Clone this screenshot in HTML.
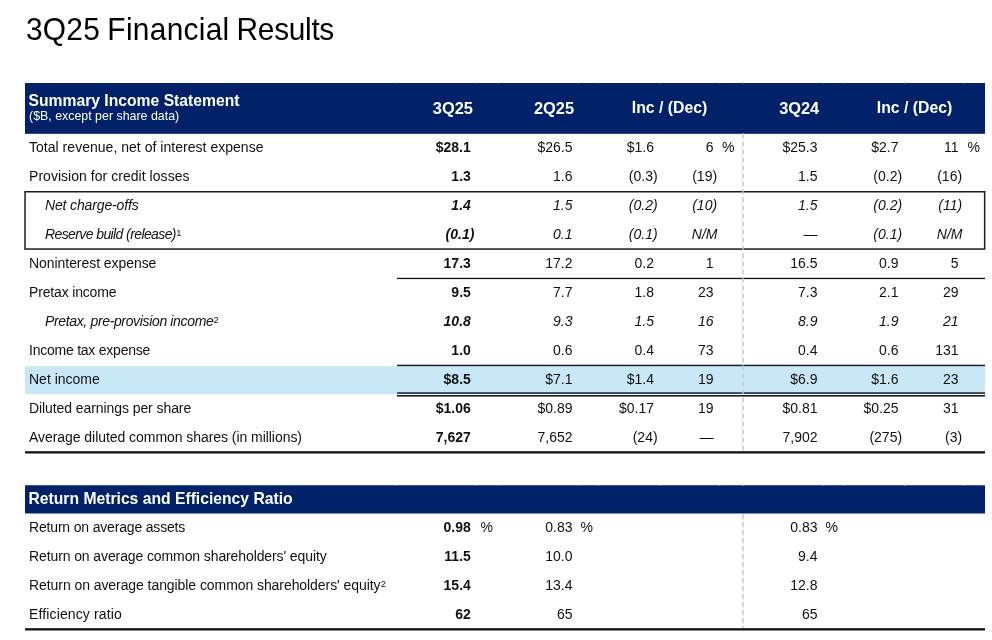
<!DOCTYPE html>
<html lang="en"><head><meta charset="utf-8"><title>3Q25 Financial Results</title>
<style>
html,body{margin:0;padding:0;background:#fff;}
body{width:992px;height:640px;position:relative;overflow:hidden;font-family:"Liberation Sans",sans-serif;color:#111;}
.t{position:absolute;white-space:nowrap;line-height:20px;}
.r{position:absolute;}
.b{font-weight:700;}
.i{font-style:italic;}
.w{color:#fff;}
.c{text-align:center;}
.title{font-size:31.6px;line-height:40px;transform-origin:0 50%;transform:scaleX(0.945);color:#000;}
sup{font-size:0.66em;font-style:normal;letter-spacing:0;line-height:0;vertical-align:baseline;position:relative;top:-0.38em;margin-left:0.2px;}
</style></head><body>
<svg class="r" style="left:0;top:0" width="992" height="640" viewBox="0 0 992 640">
<rect x="25" y="83" width="960" height="50.8" fill="#012169"/>
<rect x="25" y="366.1" width="960" height="28.1" fill="#c9e8f7"/>
<rect x="25.05" y="191.75" width="959.6" height="57.3" fill="none" stroke="#1c1c1c" stroke-width="1.5"/>
<rect x="397" y="277.8" width="588" height="1.3" fill="#111"/>
<rect x="397" y="364.7" width="588" height="1.5" fill="#14202a"/>
<rect x="397" y="392.3" width="588" height="1.5" fill="#14202a"/>
<rect x="397" y="395" width="588" height="1.6" fill="#14202a"/>
<rect x="25" y="451.2" width="960" height="2.3" fill="#111"/>
<rect x="25" y="485.25" width="960" height="28.25" fill="#012169"/>
<rect x="25" y="628.2" width="960" height="2.3" fill="#111"/>
<rect x="395.2" y="82.2" width="1.6" height="1.2" fill="#9fb2dc" opacity="0.8"/>
<rect x="395.2" y="484.5" width="1.6" height="1.2" fill="#9fb2dc" opacity="0.8"/>
<rect x="475.7" y="82.2" width="1.6" height="1.2" fill="#9fb2dc" opacity="0.8"/>
<rect x="475.7" y="484.5" width="1.6" height="1.2" fill="#9fb2dc" opacity="0.8"/>
<rect x="497.7" y="82.2" width="1.6" height="1.2" fill="#9fb2dc" opacity="0.8"/>
<rect x="497.7" y="484.5" width="1.6" height="1.2" fill="#9fb2dc" opacity="0.8"/>
<rect x="577.7" y="82.2" width="1.6" height="1.2" fill="#9fb2dc" opacity="0.8"/>
<rect x="577.7" y="484.5" width="1.6" height="1.2" fill="#9fb2dc" opacity="0.8"/>
<rect x="597.7" y="82.2" width="1.6" height="1.2" fill="#9fb2dc" opacity="0.8"/>
<rect x="597.7" y="484.5" width="1.6" height="1.2" fill="#9fb2dc" opacity="0.8"/>
<rect x="658.2" y="82.2" width="1.6" height="1.2" fill="#9fb2dc" opacity="0.8"/>
<rect x="658.2" y="484.5" width="1.6" height="1.2" fill="#9fb2dc" opacity="0.8"/>
<rect x="718.7" y="82.2" width="1.6" height="1.2" fill="#9fb2dc" opacity="0.8"/>
<rect x="718.7" y="484.5" width="1.6" height="1.2" fill="#9fb2dc" opacity="0.8"/>
<rect x="742.2" y="82.2" width="1.6" height="1.2" fill="#9fb2dc" opacity="0.8"/>
<rect x="742.2" y="484.5" width="1.6" height="1.2" fill="#9fb2dc" opacity="0.8"/>
<rect x="822.7" y="82.2" width="1.6" height="1.2" fill="#9fb2dc" opacity="0.8"/>
<rect x="822.7" y="484.5" width="1.6" height="1.2" fill="#9fb2dc" opacity="0.8"/>
<rect x="843.7" y="82.2" width="1.6" height="1.2" fill="#9fb2dc" opacity="0.8"/>
<rect x="843.7" y="484.5" width="1.6" height="1.2" fill="#9fb2dc" opacity="0.8"/>
<rect x="904.2" y="82.2" width="1.6" height="1.2" fill="#9fb2dc" opacity="0.8"/>
<rect x="904.2" y="484.5" width="1.6" height="1.2" fill="#9fb2dc" opacity="0.8"/>
<rect x="964.2" y="82.2" width="1.6" height="1.2" fill="#9fb2dc" opacity="0.8"/>
<rect x="964.2" y="484.5" width="1.6" height="1.2" fill="#9fb2dc" opacity="0.8"/>
<path d="M743 133.3V451M743 514V628" stroke="#c6c6c6" stroke-width="1.4" stroke-dasharray="5.2 2.8" fill="none"/>
</svg>
<div class="t title" style="left:26.10px;top:9.3px;"><span style="letter-spacing:0.250px">3Q25</span><span style="letter-spacing:-1.000px"> </span><span style="letter-spacing:0.320px">Financia</span>l<span style="letter-spacing:-1.000px"> </span><span style="letter-spacing:-0.330px">Results</span></div>
<div class="t b w" style="top:90.96px;left:28.5px;font-size:15.7px;">Summary Income Statement</div>
<div class="t w" style="top:105.50px;left:29px;font-size:12.4px;">($B, except per share data)</div>
<div class="t b w c" style="top:97.52px;left:392.9px;width:120px;font-size:16.4px;">3Q25</div>
<div class="t b w c" style="top:97.52px;left:494px;width:120px;font-size:16.4px;">2Q25</div>
<div class="t b w c" style="top:97.73px;left:609.5px;width:120px;font-size:15.8px;">Inc / (Dec)</div>
<div class="t b w c" style="top:97.52px;left:739.2px;width:120px;font-size:16.4px;">3Q24</div>
<div class="t b w c" style="top:97.73px;left:854.5px;width:120px;font-size:15.8px;">Inc / (Dec)</div>
<div class="t" style="top:137.45px;left:29px;font-size:14px;letter-spacing:0.027px;">Total revenue, net of interest expense</div>
<div class="t b" style="top:137.45px;right:521.2px;font-size:14px;">$28.1</div>
<div class="t" style="top:137.45px;right:419.5px;font-size:14px;">$26.5</div>
<div class="t" style="top:137.45px;right:338px;font-size:14px;">$1.6</div>
<div class="t" style="top:137.45px;right:278.5px;font-size:14px;">6</div>
<div class="t" style="top:137.45px;right:174.5px;font-size:14px;">$25.3</div>
<div class="t" style="top:137.45px;right:93.5px;font-size:14px;">$2.7</div>
<div class="t" style="top:137.45px;right:33.5px;font-size:14px;">11</div>
<div class="t" style="top:137.45px;right:257.5px;font-size:14px;">%</div>
<div class="t" style="top:137.45px;right:12px;font-size:14px;">%</div>
<div class="t" style="top:166.45px;left:29px;font-size:14px;letter-spacing:0.038px;">Provision for credit losses</div>
<div class="t b" style="top:166.45px;right:521.2px;font-size:14px;">1.3</div>
<div class="t" style="top:166.45px;right:419.5px;font-size:14px;">1.6</div>
<div class="t" style="top:166.45px;right:334.4px;font-size:14px;">(0.3)</div>
<div class="t" style="top:166.45px;right:274.9px;font-size:14px;">(19)</div>
<div class="t" style="top:166.45px;right:174.5px;font-size:14px;">1.5</div>
<div class="t" style="top:166.45px;right:89.89999999999998px;font-size:14px;">(0.2)</div>
<div class="t" style="top:166.45px;right:29.899999999999977px;font-size:14px;">(16)</div>
<div class="t i" style="top:195.45px;left:45px;font-size:14px;letter-spacing:-0.143px;">Net charge-offs</div>
<div class="t i b" style="top:195.45px;right:521.2px;font-size:14px;">1.4</div>
<div class="t i" style="top:195.45px;right:419.5px;font-size:14px;">1.5</div>
<div class="t i" style="top:195.45px;right:334.4px;font-size:14px;">(0.2)</div>
<div class="t i" style="top:195.45px;right:274.9px;font-size:14px;">(10)</div>
<div class="t i" style="top:195.45px;right:174.5px;font-size:14px;">1.5</div>
<div class="t i" style="top:195.45px;right:89.89999999999998px;font-size:14px;">(0.2)</div>
<div class="t i" style="top:195.45px;right:29.899999999999977px;font-size:14px;">(11)</div>
<div class="t i" style="top:224.45px;left:45px;font-size:14px;letter-spacing:-0.600px;">Reserve build (release)<sup>1</sup></div>
<div class="t i b" style="top:224.45px;right:517.5999999999999px;font-size:14px;">(0.1)</div>
<div class="t i" style="top:224.45px;right:419.5px;font-size:14px;">0.1</div>
<div class="t i" style="top:224.45px;right:334.4px;font-size:14px;">(0.1)</div>
<div class="t i" style="top:224.45px;right:274.5px;font-size:14px;">N/M</div>
<div class="t i" style="top:224.45px;right:174.5px;font-size:14px;">—</div>
<div class="t i" style="top:224.45px;right:89.89999999999998px;font-size:14px;">(0.1)</div>
<div class="t i" style="top:224.45px;right:29.5px;font-size:14px;">N/M</div>
<div class="t" style="top:253.45px;left:29px;font-size:14px;letter-spacing:-0.056px;">Noninterest expense</div>
<div class="t b" style="top:253.45px;right:521.2px;font-size:14px;">17.3</div>
<div class="t" style="top:253.45px;right:419.5px;font-size:14px;">17.2</div>
<div class="t" style="top:253.45px;right:338px;font-size:14px;">0.2</div>
<div class="t" style="top:253.45px;right:278.5px;font-size:14px;">1</div>
<div class="t" style="top:253.45px;right:174.5px;font-size:14px;">16.5</div>
<div class="t" style="top:253.45px;right:93.5px;font-size:14px;">0.9</div>
<div class="t" style="top:253.45px;right:33.5px;font-size:14px;">5</div>
<div class="t" style="top:282.45px;left:29px;font-size:14px;letter-spacing:-0.167px;">Pretax income</div>
<div class="t b" style="top:282.45px;right:521.2px;font-size:14px;">9.5</div>
<div class="t" style="top:282.45px;right:419.5px;font-size:14px;">7.7</div>
<div class="t" style="top:282.45px;right:338px;font-size:14px;">1.8</div>
<div class="t" style="top:282.45px;right:278.5px;font-size:14px;">23</div>
<div class="t" style="top:282.45px;right:174.5px;font-size:14px;">7.3</div>
<div class="t" style="top:282.45px;right:93.5px;font-size:14px;">2.1</div>
<div class="t" style="top:282.45px;right:33.5px;font-size:14px;">29</div>
<div class="t i" style="top:311.45px;left:45px;font-size:14px;letter-spacing:-0.350px;">Pretax, pre-provision income<sup>2</sup></div>
<div class="t i b" style="top:311.45px;right:521.2px;font-size:14px;">10.8</div>
<div class="t i" style="top:311.45px;right:419.5px;font-size:14px;">9.3</div>
<div class="t i" style="top:311.45px;right:338px;font-size:14px;">1.5</div>
<div class="t i" style="top:311.45px;right:278.5px;font-size:14px;">16</div>
<div class="t i" style="top:311.45px;right:174.5px;font-size:14px;">8.9</div>
<div class="t i" style="top:311.45px;right:93.5px;font-size:14px;">1.9</div>
<div class="t i" style="top:311.45px;right:33.5px;font-size:14px;">21</div>
<div class="t" style="top:340.45px;left:29px;font-size:14px;letter-spacing:-0.235px;">Income tax expense</div>
<div class="t b" style="top:340.45px;right:521.2px;font-size:14px;">1.0</div>
<div class="t" style="top:340.45px;right:419.5px;font-size:14px;">0.6</div>
<div class="t" style="top:340.45px;right:338px;font-size:14px;">0.4</div>
<div class="t" style="top:340.45px;right:278.5px;font-size:14px;">73</div>
<div class="t" style="top:340.45px;right:174.5px;font-size:14px;">0.4</div>
<div class="t" style="top:340.45px;right:93.5px;font-size:14px;">0.6</div>
<div class="t" style="top:340.45px;right:33.5px;font-size:14px;">131</div>
<div class="t" style="top:369.45px;left:29px;font-size:14px;letter-spacing:0.000px;">Net income</div>
<div class="t b" style="top:369.45px;right:521.2px;font-size:14px;">$8.5</div>
<div class="t" style="top:369.45px;right:419.5px;font-size:14px;">$7.1</div>
<div class="t" style="top:369.45px;right:338px;font-size:14px;">$1.4</div>
<div class="t" style="top:369.45px;right:278.5px;font-size:14px;">19</div>
<div class="t" style="top:369.45px;right:174.5px;font-size:14px;">$6.9</div>
<div class="t" style="top:369.45px;right:93.5px;font-size:14px;">$1.6</div>
<div class="t" style="top:369.45px;right:33.5px;font-size:14px;">23</div>
<div class="t" style="top:398.45px;left:29px;font-size:14px;letter-spacing:-0.080px;">Diluted earnings per share</div>
<div class="t b" style="top:398.45px;right:521.2px;font-size:14px;">$1.06</div>
<div class="t" style="top:398.45px;right:419.5px;font-size:14px;">$0.89</div>
<div class="t" style="top:398.45px;right:338px;font-size:14px;">$0.17</div>
<div class="t" style="top:398.45px;right:278.5px;font-size:14px;">19</div>
<div class="t" style="top:398.45px;right:174.5px;font-size:14px;">$0.81</div>
<div class="t" style="top:398.45px;right:93.5px;font-size:14px;">$0.25</div>
<div class="t" style="top:398.45px;right:33.5px;font-size:14px;">31</div>
<div class="t" style="top:427.45px;left:29px;font-size:14px;letter-spacing:-0.052px;">Average diluted common shares (in millions)</div>
<div class="t b" style="top:427.45px;right:521.2px;font-size:14px;">7,627</div>
<div class="t" style="top:427.45px;right:419.5px;font-size:14px;">7,652</div>
<div class="t" style="top:427.45px;right:334.4px;font-size:14px;">(24)</div>
<div class="t" style="top:427.45px;right:278.5px;font-size:14px;">—</div>
<div class="t" style="top:427.45px;right:174.5px;font-size:14px;">7,902</div>
<div class="t" style="top:427.45px;right:89.89999999999998px;font-size:14px;">(275)</div>
<div class="t" style="top:427.45px;right:29.899999999999977px;font-size:14px;">(3)</div>
<div class="t b w" style="top:488.96px;left:28.5px;font-size:15.7px;">Return Metrics and Efficiency Ratio</div>
<div class="t" style="top:517.45px;left:29px;font-size:14px;letter-spacing:-0.174px;">Return on average assets</div>
<div class="t b" style="top:517.45px;right:521.2px;font-size:14px;">0.98</div>
<div class="t" style="top:517.45px;right:499px;font-size:14px;">%</div>
<div class="t" style="top:517.45px;right:419.5px;font-size:14px;">0.83</div>
<div class="t" style="top:517.45px;right:399px;font-size:14px;">%</div>
<div class="t" style="top:517.45px;right:174.5px;font-size:14px;">0.83</div>
<div class="t" style="top:517.45px;right:154px;font-size:14px;">%</div>
<div class="t" style="top:546.45px;left:29px;font-size:14px;letter-spacing:-0.105px;">Return on average common shareholders' equity</div>
<div class="t b" style="top:546.45px;right:521.2px;font-size:14px;">11.5</div>
<div class="t" style="top:546.45px;right:419.5px;font-size:14px;">10.0</div>
<div class="t" style="top:546.45px;right:174.5px;font-size:14px;">9.4</div>
<div class="t" style="top:575.45px;left:29px;font-size:14px;letter-spacing:-0.070px;">Return on average tangible common shareholders' equity<sup>2</sup></div>
<div class="t b" style="top:575.45px;right:521.2px;font-size:14px;">15.4</div>
<div class="t" style="top:575.45px;right:419.5px;font-size:14px;">13.4</div>
<div class="t" style="top:575.45px;right:174.5px;font-size:14px;">12.8</div>
<div class="t" style="top:604.45px;left:29px;font-size:14px;letter-spacing:0.133px;">Efficiency ratio</div>
<div class="t b" style="top:604.45px;right:521.2px;font-size:14px;">62</div>
<div class="t" style="top:604.45px;right:419.5px;font-size:14px;">65</div>
<div class="t" style="top:604.45px;right:174.5px;font-size:14px;">65</div>
</body></html>
